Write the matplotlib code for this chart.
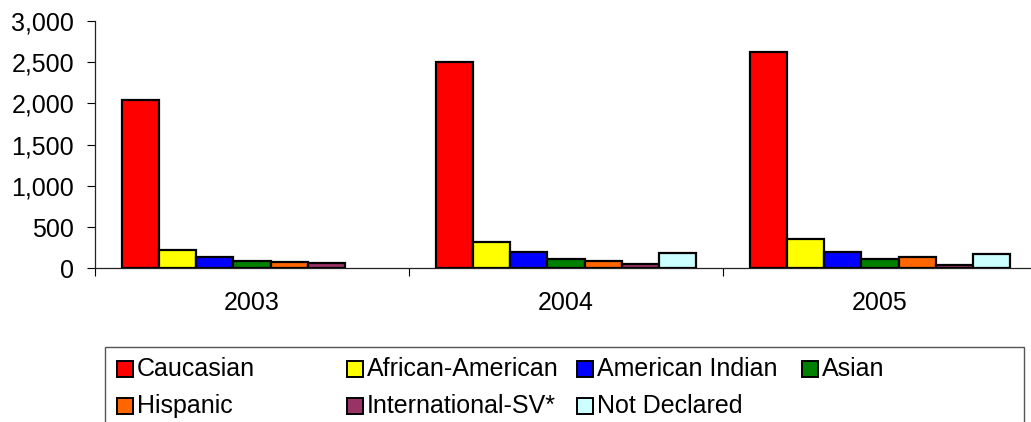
import numpy as np
import matplotlib
matplotlib.use('Agg')
import matplotlib.pyplot as plt
from matplotlib.patches import Rectangle
from matplotlib.ticker import FuncFormatter

# data
years = ['2003', '2004', '2005']
groups = ['Caucasian', 'African-American', 'American Indian', 'Asian',
          'Hispanic', 'International-SV*', 'Not Declared']
colors = ['#FF0000', '#FFFF00', '#0000FF', '#008000',
          '#FF6600', '#993366', '#CCFFFF']
caucasian = [2040, 2505, 2625]
african_american = [225, 320, 350]
american_indian = [140, 195, 200]
asian = [85, 115, 115]
hispanic = [75, 85, 135]
international = [60, 55, 45]
not_declared = [np.nan, 190, 175]   # no bar in 2003

series = [caucasian, african_american, american_indian, asian,
          hispanic, international, not_declared]

plt.rcParams['font.family'] = ['Liberation Sans', 'DejaVu Sans']
plt.rcParams['font.size'] = 18

W, H = 1031, 422
fig = plt.figure(figsize=(W / 100, H / 100), dpi=100)
# axes spans past the right edge like the cropped original
ax = fig.add_axes([95 / W, 1 - 268.3 / H, (1037 - 95) / W, (268.3 - 21) / H])

x = np.arange(len(years))
bw = 0.118
for i, (vals, c) in enumerate(zip(series, colors)):
    vals = np.array(vals, dtype=float)
    ok = ~np.isnan(vals)
    ax.bar(x[ok] + (i - 3) * bw, vals[ok], bw, color=c,
           edgecolor='black', linewidth=1.6, zorder=3)

ax.set_xlim(-0.5, 2.5)
ax.set_ylim(0, 3000)
ax.set_yticks(range(0, 3001, 500))
ax.yaxis.set_major_formatter(FuncFormatter(lambda v, p: f'{int(v):,}'))
ax.set_xticks(x)
ax.set_xticklabels(years)
ax.set_xticks([-0.5, 0.5, 1.5, 2.5], minor=True)
ax.tick_params(axis='x', which='major', length=0, pad=16)
ax.tick_params(axis='x', which='minor', length=6, width=0.8, direction='out')
ax.tick_params(axis='y', length=6, width=0.8, pad=9)
ax.spines['top'].set_visible(False)
ax.spines['right'].set_visible(False)
for s in ['left', 'bottom']:
    ax.spines[s].set_linewidth(0.9)
    ax.spines[s].set_color('#222222')


# legend drawn by hand (Excel puts columns at uneven spacing)
def fx(px):
    return px / W


def fy(py):
    return 1 - py / H


fig.add_artist(Rectangle((fx(105), fy(450)), fx(1024) - fx(105), fy(347) - fy(450),
                         transform=fig.transFigure, facecolor='white',
                         edgecolor='#555555', linewidth=1.0))
col_x = [137, 367, 597, 822]
row_base = [376, 413]
for k, (lab, c) in enumerate(zip(groups, colors)):
    r, col = divmod(k, 4)
    tx = col_x[col]
    by = row_base[r]
    fig.add_artist(Rectangle((fx(tx - 20), fy(by + 1)), 16 / W, 16 / H,
                             transform=fig.transFigure, facecolor=c,
                             edgecolor='black', linewidth=1.4))
    fig.text(fx(tx), fy(by), lab, ha='left', va='baseline', fontsize=18)

fig.savefig('out.png', dpi=100)
